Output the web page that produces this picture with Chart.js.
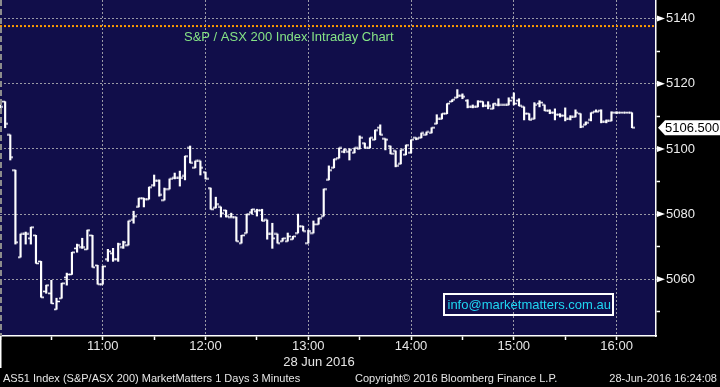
<!DOCTYPE html>
<html>
<head>
<meta charset="utf-8">
<script src="https://cdn.jsdelivr.net/npm/chart.js@4.4.0/dist/chart.umd.min.js"></script>
<style>
  html, body { margin: 0; padding: 0; background: #000; }
  #wrap { position: relative; width: 720px; height: 387px; overflow: hidden; }
  #chart { position: absolute; left: 0; top: 0; }
  .foot { position: absolute; top: 372px; font: 11px "Liberation Sans", Arial, sans-serif; color: #e6e6e6; white-space: nowrap; }
</style>
</head>
<body>
<div id="wrap">
  <canvas id="chart" width="720" height="387"></canvas>
  <div class="foot" style="left:3px">AS51 Index (S&amp;P/ASX 200) MarketMatters 1 Days 3 Minutes</div>
  <div class="foot" style="left:355px">Copyright© 2016 Bloomberg Finance L.P.</div>
  <div class="foot" style="right:3px">28-Jun-2016 16:24:08</div>
</div>
<script>
// 3-minute bars from 10:00, AS51 index, 28 Jun 2016
const opens = [5112.9, 5114.5, 5104.3, 5093.5, 5066.8, 5073.9, 5072.6, 5073.5, 5065.5, 5056.3,
  5055.7, 5050.8, 5054.2, 5060.6, 5061.5, 5069.5, 5069.9, 5069.2, 5073.5, 5064.3,
  5058.5, 5066.2, 5068.0, 5066.2, 5069.9, 5070.5, 5078.2, 5082.2, 5084.9, 5084.6,
  5088.9, 5090.2, 5084.3, 5087.7, 5091.1, 5091.1, 5091.7, 5100.3, 5094.2, 5096.3,
  5092.9, 5088.0, 5081.9, 5082.2, 5081.2, 5079.1, 5079.1, 5071.1, 5074.2, 5080.6,
  5080.9, 5081.2, 5078.2, 5073.9, 5073.9, 5071.7, 5071.7, 5072.3, 5074.2, 5076.3,
  5071.1, 5074.2, 5076.9, 5079.4, 5090.5, 5094.2, 5097.2, 5099.1, 5099.1, 5098.8,
  5100.0, 5101.8, 5100.3, 5102.8, 5106.5, 5103.1, 5100.9, 5099.4, 5095.4, 5098.2,
  5098.8, 5103.4, 5103.4, 5104.3, 5104.9, 5107.7, 5109.2, 5110.8, 5114.5, 5115.7,
  5116.3, 5114.8, 5112.9, 5112.9, 5114.5, 5113.2, 5112.3, 5113.5, 5113.5, 5113.5,
  5115.7, 5114.8, 5112.9, 5110.8, 5109.2, 5113.9, 5113.5, 5111.7, 5111.1, 5110.5,
  5110.2, 5109.2, 5109.8, 5110.8, 5107.4, 5108.9, 5111.4, 5111.7, 5108.3, 5108.6,
  5111.1, 5111.1, 5111.1, 5111.1];
const highs = [5113.5, 5114.5, 5104.3, 5093.5, 5073.9, 5074.5, 5076.0, 5073.5, 5065.5, 5058.2,
  5059.7, 5054.2, 5058.8, 5061.9, 5068.3, 5070.8, 5072.6, 5075.1, 5073.5, 5064.3,
  5064.0, 5069.2, 5069.5, 5071.1, 5071.7, 5077.9, 5080.9, 5084.9, 5084.9, 5088.3,
  5092.0, 5090.5, 5088.0, 5090.8, 5092.6, 5093.2, 5097.8, 5100.9, 5096.3, 5096.3,
  5092.9, 5088.0, 5085.2, 5082.2, 5081.2, 5080.3, 5079.1, 5073.5, 5080.0, 5081.5,
  5081.5, 5081.5, 5078.2, 5077.2, 5073.9, 5072.6, 5074.2, 5073.2, 5080.0, 5076.3,
  5075.1, 5077.9, 5078.8, 5087.7, 5094.8, 5096.9, 5100.3, 5100.0, 5100.0, 5100.3,
  5104.0, 5101.8, 5103.4, 5105.8, 5107.4, 5103.1, 5100.9, 5099.4, 5099.7, 5101.2,
  5102.8, 5103.4, 5104.9, 5105.2, 5106.5, 5110.5, 5110.8, 5113.9, 5115.1, 5118.2,
  5116.9, 5115.1, 5113.5, 5114.8, 5114.5, 5114.5, 5113.9, 5115.4, 5113.5, 5115.7,
  5117.2, 5115.4, 5112.9, 5110.8, 5114.2, 5114.8, 5113.5, 5112.0, 5112.3, 5110.8,
  5112.6, 5110.2, 5112.0, 5110.8, 5108.3, 5111.1, 5112.0, 5112.0, 5108.9, 5111.4,
  5111.4, 5111.1, 5111.1, 5111.1];
const lows = [5112.3, 5106.5, 5096.6, 5070.8, 5066.8, 5070.8, 5070.8, 5064.9, 5054.5, 5055.7,
  5052.6, 5050.8, 5054.2, 5058.2, 5061.5, 5068.3, 5069.5, 5069.2, 5063.7, 5058.5,
  5058.5, 5065.5, 5065.5, 5065.5, 5069.5, 5070.5, 5077.2, 5082.2, 5082.2, 5084.6,
  5088.6, 5085.5, 5084.3, 5087.7, 5090.8, 5088.6, 5090.5, 5095.7, 5094.2, 5092.0,
  5090.8, 5081.5, 5081.9, 5079.1, 5079.1, 5079.1, 5071.7, 5071.1, 5074.2, 5080.0,
  5079.4, 5077.9, 5072.3, 5069.5, 5071.1, 5071.7, 5071.7, 5072.3, 5074.2, 5074.8,
  5071.1, 5074.2, 5076.9, 5079.4, 5090.5, 5094.2, 5097.2, 5098.8, 5096.6, 5098.8,
  5100.0, 5100.3, 5100.3, 5102.8, 5104.3, 5099.7, 5098.5, 5094.5, 5095.4, 5098.2,
  5098.8, 5102.8, 5103.4, 5104.3, 5104.9, 5107.7, 5109.2, 5110.8, 5114.5, 5115.7,
  5115.4, 5112.6, 5112.6, 5112.9, 5112.9, 5112.3, 5112.3, 5113.2, 5113.5, 5113.5,
  5113.5, 5113.2, 5108.9, 5108.9, 5109.2, 5112.9, 5111.7, 5110.8, 5108.9, 5109.8,
  5108.6, 5108.9, 5109.8, 5106.5, 5107.4, 5108.6, 5111.4, 5108.0, 5108.0, 5108.6,
  5110.8, 5111.1, 5111.1, 5106.5];
const closes = [5112.9, 5107.7, 5097.5, 5071.4, 5073.9, 5073.9, 5076.0, 5064.9, 5054.5, 5058.2,
  5052.6, 5053.2, 5058.8, 5061.5, 5068.3, 5070.5, 5069.9, 5075.1, 5063.7, 5058.5,
  5064.0, 5068.6, 5066.2, 5070.8, 5071.4, 5077.9, 5079.4, 5084.9, 5084.6, 5088.3,
  5090.2, 5085.9, 5087.7, 5090.8, 5091.1, 5091.1, 5097.8, 5095.7, 5096.3, 5094.2,
  5090.8, 5081.5, 5083.1, 5080.3, 5079.4, 5079.1, 5071.7, 5073.5, 5080.0, 5081.5,
  5081.2, 5077.9, 5073.9, 5072.6, 5071.1, 5072.6, 5073.2, 5073.2, 5076.3, 5074.8,
  5074.8, 5076.9, 5078.8, 5087.7, 5093.5, 5096.9, 5100.3, 5099.7, 5099.7, 5100.3,
  5103.4, 5100.3, 5103.4, 5105.8, 5104.3, 5102.8, 5098.5, 5094.8, 5099.7, 5101.2,
  5102.8, 5103.1, 5104.9, 5105.2, 5106.5, 5109.2, 5110.8, 5113.9, 5115.1, 5116.3,
  5116.0, 5112.9, 5112.9, 5114.5, 5113.2, 5113.2, 5113.9, 5113.5, 5113.5, 5114.8,
  5113.9, 5113.2, 5110.8, 5108.9, 5113.5, 5114.2, 5111.7, 5111.1, 5110.5, 5110.2,
  5109.2, 5109.8, 5111.1, 5106.8, 5108.0, 5111.1, 5111.4, 5108.3, 5108.6, 5111.1,
  5111.1, 5111.1, 5111.1, 5106.5];
const barMinutes = closes.map((_, i) => i * 3);   // minutes after 10:00
const hourLabels = ['11:00', '12:00', '13:00', '14:00', '15:00', '16:00'];
const yLabelValues = [5060, 5080, 5100, 5120, 5140];
const prevClose = 5137.7;
const lastPrice = 5106.5;

const FONT = '"Liberation Sans", Arial, sans-serif';
const GRID = '#9a9aa6';

// little canvases used as point styles: open tick on the left, close tick on the right
function tickImage(side) {
  const c = document.createElement('canvas');
  c.width = 6; c.height = 3;
  const g = c.getContext('2d');
  g.fillStyle = '#fff';
  g.fillRect(side === 'left' ? 0 : 3, 0.75, 3, 1.5);
  return c;
}

// drop the label overhang padding so the plot runs to the canvas edges
function noPadding(s) {
  s.paddingLeft = 0; s.paddingRight = 0;
  s.paddingTop = 0; s.paddingBottom = 0;
}

const decor = {
  id: 'decor',
  beforeDraw(chart) {
    const {ctx, chartArea: a} = chart;
    ctx.save();
    ctx.fillStyle = '#000';
    ctx.fillRect(0, 0, chart.width, chart.height);
    ctx.fillStyle = '#110e4a';
    ctx.fillRect(a.left, a.top, a.right - a.left, a.bottom - a.top);
    ctx.restore();
  },
  afterDraw(chart) {
    const {ctx, chartArea: a, scales: {y}} = chart;
    ctx.save();

    // left edge of the plot
    ctx.strokeStyle = '#8c8c8c';
    ctx.lineWidth = 2;
    ctx.setLineDash([6, 3]);
    ctx.beginPath();
    ctx.moveTo(a.left + 1, a.top);
    ctx.lineTo(a.left + 1, a.bottom);
    ctx.stroke();
    ctx.setLineDash([]);
    ctx.strokeStyle = '#fff';
    ctx.lineWidth = 1.5;
    ctx.beginPath();
    ctx.moveTo(a.left + 0.75, a.bottom);
    ctx.lineTo(a.left + 0.75, a.bottom + 32);
    ctx.stroke();

    // chart title
    ctx.font = '13px ' + FONT;
    ctx.textBaseline = 'middle';
    ctx.textAlign = 'left';
    ctx.fillStyle = '#86e486';
    ctx.fillText('S&P / ASX 200 Index Intraday Chart', 184, 37);

    // date under the time axis
    ctx.fillStyle = '#e6e6e6';
    ctx.textAlign = 'center';
    ctx.fillText('28 Jun 2016', 319, 362);

    // e-mail box
    ctx.strokeStyle = '#fff';
    ctx.lineWidth = 2;
    ctx.strokeRect(444, 294, 169, 21);
    ctx.fillStyle = '#1fd6f2';
    ctx.textAlign = 'left';
    ctx.fillText('info@marketmatters.com.au', 447.5, 305);

    // arrows in front of the price labels
    ctx.fillStyle = '#fff';
    yLabelValues.forEach(v => {
      const py = y.getPixelForValue(v);
      ctx.beginPath();
      ctx.moveTo(a.right + 1, py - 3);
      ctx.lineTo(a.right + 9, py);
      ctx.lineTo(a.right + 1, py + 3);
      ctx.closePath();
      ctx.fill();
    });

    // last price tag
    const py = y.getPixelForValue(lastPrice);
    ctx.beginPath();
    ctx.moveTo(a.right + 2, py);
    ctx.lineTo(a.right + 9, py - 7.5);
    ctx.lineTo(chart.width, py - 7.5);
    ctx.lineTo(chart.width, py + 7.5);
    ctx.lineTo(a.right + 9, py + 7.5);
    ctx.closePath();
    ctx.fill();
    ctx.fillStyle = '#000';
    ctx.font = '13px ' + FONT;
    ctx.fillText(lastPrice.toFixed(3), a.right + 9, py + 0.5);

    ctx.restore();
  }
};

new Chart(document.getElementById('chart'), {
  type: 'bar',
  data: {
    datasets: [{
      // high-low range of each bar
      type: 'bar',
      data: barMinutes.map((m, i) => ({x: m, y: [lows[i], highs[i]]})),
      backgroundColor: '#fff',
      borderWidth: 0,
      barThickness: 1.5
    }, {
      type: 'line',
      data: barMinutes.map((m, i) => ({x: m, y: opens[i]})),
      showLine: false,
      pointStyle: tickImage('left'),
      pointRadius: 3,
      pointHoverRadius: 3
    }, {
      type: 'line',
      data: barMinutes.map((m, i) => ({x: m, y: closes[i]})),
      showLine: false,
      pointStyle: tickImage('right'),
      pointRadius: 3,
      pointHoverRadius: 3
    }, {
      // previous close
      type: 'line',
      data: [{x: 0, y: prevClose}, {x: 383, y: prevClose}],
      borderColor: '#ff9c00',
      borderWidth: 2,
      borderDash: [2, 2],
      pointRadius: 0
    }]
  },
  options: {
    responsive: false,
    animation: false,
    events: [],
    layout: { padding: 0, autoPadding: false },
    plugins: {
      legend: { display: false },
      tooltip: { enabled: false }
    },
    scales: {
      x: {
        type: 'linear',
        position: 'bottom',
        min: 0,
        max: 383,
        offset: false,
        afterFit: s => { s.height = 51; noPadding(s); },
        afterBuildTicks: s => { s.ticks = s.ticks.filter(t => t.value % 30 === 0); },
        ticks: {
          stepSize: 30,
          includeBounds: false,
          autoSkip: false,
          maxRotation: 0,
          padding: 0,
          color: '#e6e6e6',
          font: { family: FONT, size: 13, lineHeight: 1 },
          callback: v => (v % 60 === 0 && v > 0) ? hourLabels[v / 60 - 1] : ''
        },
        grid: {
          offset: false,
          color: c => (c.tick && c.tick.value % 60 === 0 && c.tick.value > 0) ? GRID : 'transparent',
          tickColor: '#fff',
          tickLength: 4,
          tickWidth: 1.5
        },
        border: { color: '#fff', width: 1.5, dash: [2, 2] }
      },
      y: {
        position: 'right',
        min: 5042.6,
        max: 5145.7,
        afterFit: s => { s.width = 64; noPadding(s); },
        afterBuildTicks: s => { s.ticks = s.ticks.filter(t => t.value % 10 === 0); },
        ticks: {
          stepSize: 10,
          includeBounds: false,
          padding: 6,
          color: '#ececec',
          font: { family: FONT, size: 13 },
          callback: v => (v % 20 === 0) ? v : ''
        },
        grid: {
          color: c => (c.tick && c.tick.value % 20 === 0) ? GRID : 'transparent',
          tickColor: '#fff',
          tickLength: 4,
          tickWidth: 1.5
        },
        border: { color: '#fff', width: 1.5, dash: [2, 2] }
      }
    }
  },
  plugins: [decor]
});
</script>
</body>
</html>
